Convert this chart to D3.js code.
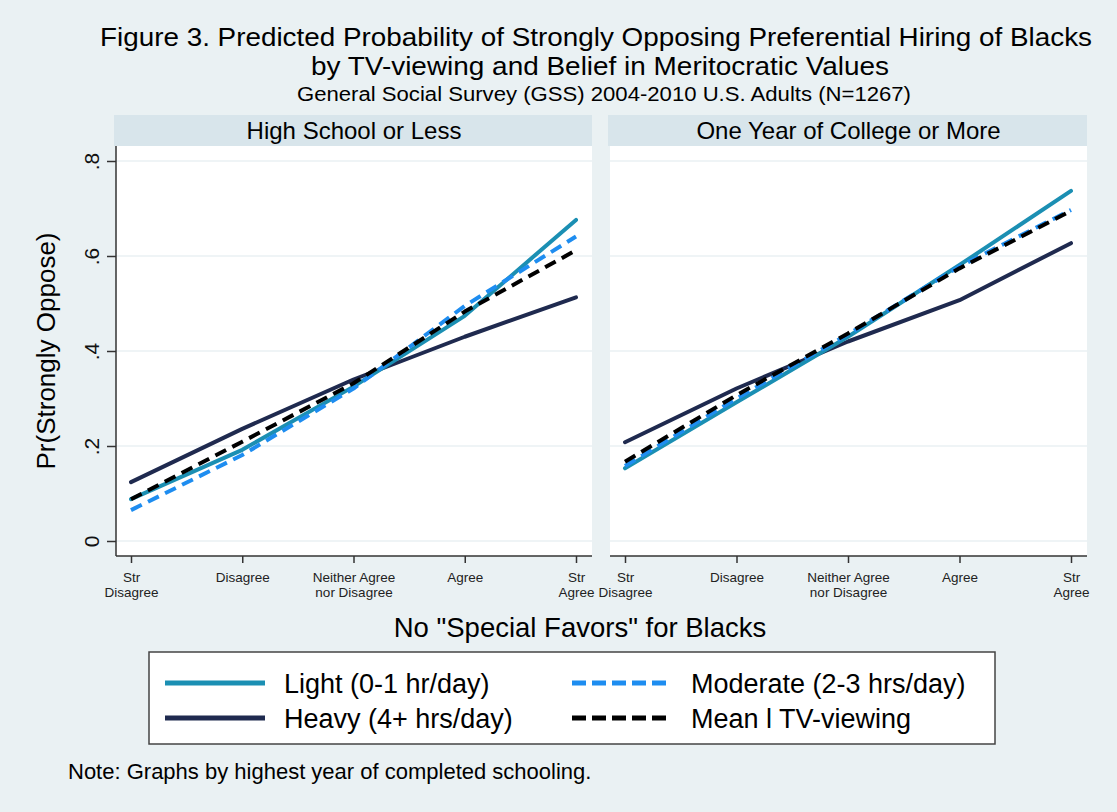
<!DOCTYPE html>
<html><head><meta charset="utf-8">
<script src="https://cdn.jsdelivr.net/npm/d3@7"></script>
<style>body{margin:0;background:#eaf1f3;}svg{display:block;font-family:"Liberation Sans",Arial,sans-serif;}</style>
</head><body>
<script>
const categories = ["Str|Disagree","Disagree","Neither Agree|nor Disagree","Agree","Str|Agree"];
const panels = ["High School or Less","One Year of College or More"];
const yTicks = [0,0.2,0.4,0.6,0.8];
const yTickLabels = ["0",".2",".4",".6",".8"];
const seriesNames = ["Light (0-1 hr/day)","Moderate (2-3 hrs/day)","Heavy (4+ hrs/day)","Mean l TV-viewing"];
// values per panel
const lightHS    = [0.088,0.192,0.325,0.474,0.676];
const moderateHS = [0.065,0.181,0.321,0.495,0.641];
const heavyHS    = [0.124,0.236,0.340,0.430,0.513];
const meanHS     = [0.088,0.209,0.332,0.483,0.612];
const lightCol    = [0.153,0.292,0.430,0.581,0.737];
const moderateCol = [0.158,0.300,0.435,0.578,0.697];
const heavyCol    = [0.208,0.321,0.420,0.507,0.627];
const meanCol     = [0.167,0.307,0.437,0.574,0.695];

const W=1117,H=812;
const svg=d3.select("body").append("svg").attr("width",W).attr("height",H);
svg.append("rect").attr("width",W).attr("height",H).attr("fill","#eaf1f3");

const styles = [
  {name:seriesNames[2], color:"#1f2a4f", dash:null},
  {name:seriesNames[0], color:"#1b8fb3", dash:null},
  {name:seriesNames[1], color:"#1e8df0", dash:"12,7"},
  {name:seriesNames[3], color:"#000000", dash:"12,7"}
];
const panelData = [
  [heavyHS, lightHS, moderateHS, meanHS],
  [heavyCol, lightCol, moderateCol, meanCol]
];
const panelX = [[116,592],[610,1087]];
const plotTop=146, plotBottom=556;
const y=d3.scaleLinear().domain([0,0.8]).range([541,161]);

// titles
svg.append("text").attr("x",100).attr("y",46).attr("font-size",25)
  .attr("textLength",992).attr("lengthAdjust","spacingAndGlyphs")
  .text("Figure 3. Predicted Probability of Strongly Opposing Preferential Hiring of Blacks");
svg.append("text").attr("x",311).attr("y",75).attr("font-size",25)
  .attr("textLength",578).attr("lengthAdjust","spacingAndGlyphs")
  .text("by TV-viewing and Belief in Meritocratic Values");
svg.append("text").attr("x",297).attr("y",101).attr("font-size",20)
  .attr("textLength",614).attr("lengthAdjust","spacingAndGlyphs")
  .text("General Social Survey (GSS) 2004-2010 U.S. Adults (N=1267)");

panelData.forEach((series,pi)=>{
  const [x0,x1]=panelX[pi];
  const g=svg.append("g");
  // strip
  g.append("rect").attr("x",x0-2).attr("y",115).attr("width",x1-x0+2).attr("height",31).attr("fill","#d8e5eb");
  g.append("text").attr("x",(x0+x1)/2).attr("y",139).attr("text-anchor","middle").attr("font-size",24).text(panels[pi]);
  // plot bg
  g.append("rect").attr("x",x0).attr("y",plotTop).attr("width",x1-x0).attr("height",plotBottom-plotTop).attr("fill","#ffffff");
  const x=d3.scalePoint().domain(categories).range([x0+15,x1-16]);
  // grid
  g.selectAll("line.grid").data(yTicks).join("line").attr("x1",x0).attr("x2",x1)
    .attr("y1",d=>y(d)).attr("y2",d=>y(d)).attr("stroke","#eaf1f3").attr("stroke-width",1.5);
  // x axis
  const xa=g.append("g").attr("transform",`translate(0,${plotBottom})`)
    .call(d3.axisBottom(x).tickSize(7).tickSizeOuter(0).tickFormat(""));
  xa.select(".domain").attr("d",`M${x0},0H${x1}`).attr("stroke","#333").attr("stroke-width",1.5);
  xa.selectAll(".tick line").attr("stroke","#333").attr("stroke-width",1.5);
  xa.selectAll(".tick").each(function(d){
    const parts=d.split("|");
    const t=d3.select(this).append("text").attr("fill","#222").attr("font-size",13.5).attr("text-anchor","middle");
    if(parts.length===1){ t.attr("y",26).text(parts[0]); }
    else { parts.forEach((p,i)=>t.append("tspan").attr("x",0).attr("y",26+i*15).text(p)); }
  });
  if(pi===0){
    const ya=g.append("g").attr("transform",`translate(${x0},0)`)
      .call(d3.axisLeft(y).tickValues(yTicks).tickSize(9).tickSizeOuter(0).tickFormat((d,i)=>yTickLabels[i]));
    ya.select(".domain").attr("d",`M0,${plotTop}V${plotBottom}`).attr("stroke","#333").attr("stroke-width",1.5);
    ya.selectAll(".tick line").attr("stroke","#333").attr("stroke-width",1.5);
    ya.selectAll(".tick text").attr("font-size",21).attr("fill","#111").attr("x",0).attr("dy",0)
      .attr("transform","translate(-24,0) rotate(-90)").attr("text-anchor","middle").attr("dy","0.35em");
  }
  const line=d3.line().x((d,i)=>x(categories[i])).y(d=>y(d));
  series.forEach((vals,si)=>{
    const s=styles[si];
    g.append("path").attr("d",line(vals)).attr("fill","none").attr("stroke",s.color)
      .attr("stroke-width",4).attr("stroke-dasharray",s.dash).attr("stroke-linecap",s.dash?"butt":"round").attr("stroke-linejoin","round");
  });
});

// y label
svg.append("text").attr("transform","translate(55,351) rotate(-90)").attr("text-anchor","middle").attr("font-size",26).text("Pr(Strongly Oppose)");
// x title
svg.append("text").attr("x",580).attr("y",637).attr("text-anchor","middle").attr("font-size",27.5).text('No "Special Favors" for Blacks');

// legend
const lg=svg.append("g");
lg.append("rect").attr("x",149).attr("y",652).attr("width",846).attr("height",92).attr("fill","#fff").attr("stroke","#444").attr("stroke-width",1.5);
const legItems=[
  {s:styles[1],x:165,y:683},{s:styles[2],x:572,y:683},
  {s:styles[0],x:165,y:718},{s:styles[3],x:572,y:718}
];
legItems.forEach(it=>{
  lg.append("line").attr("x1",it.x).attr("x2",it.x+100).attr("y1",it.y).attr("y2",it.y)
    .attr("stroke",it.s.color).attr("stroke-width",5).attr("stroke-dasharray",it.s.dash?"14,6":null);
  lg.append("text").attr("x",it.x+119).attr("y",it.y+10).attr("font-size",27).text(it.s.name);
});
svg.append("text").attr("x",68).attr("y",779).attr("font-size",22).text("Note: Graphs by highest year of completed schooling.");
</script>
</body></html>
